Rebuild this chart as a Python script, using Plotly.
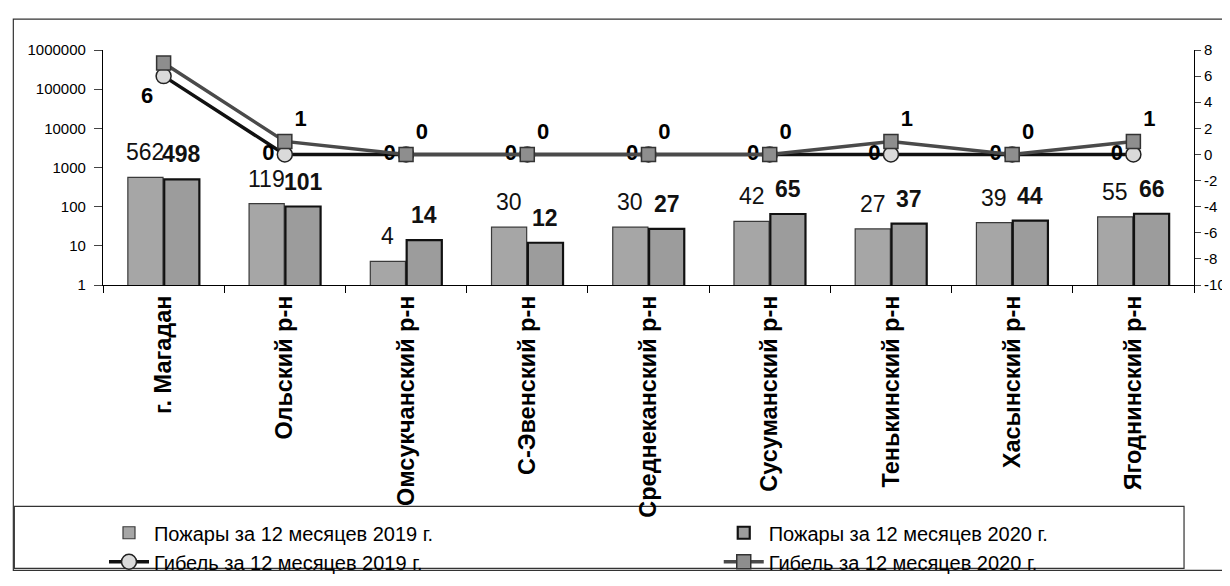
import plotly.graph_objects as go
import numpy as np

# ---- data ----
categories = ["г. Магадан", "Ольский р-н", "Омсукчанский р-н", "С-Эвенский р-н",
              "Среднеканский р-н", "Сусуманский р-н", "Тенькинский р-н",
              "Хасынский р-н", "Ягоднинский р-н"]
fires_2019 = [562, 119, 4, 30, 30, 42, 27, 39, 55]
fires_2020 = [498, 101, 14, 12, 27, 65, 37, 44, 66]
deaths_2019 = [6, 0, 0, 0, 0, 0, 0, 0, 0]
deaths_2020 = [7, 1, 0, 0, 0, 0, 1, 0, 1]
left_ticks = [1, 10, 100, 1000, 10000, 100000, 1000000]
right_ticks = [-10, -8, -6, -4, -2, 0, 2, 4, 6, 8]

names = ["Пожары за 12 месяцев 2019 г.", "Пожары за 12 месяцев 2020 г.",
         "Гибель за 12 месяцев 2019 г.", "Гибель за 12 месяцев 2020 г."]

W, H = 1230, 586
ML, MR, MT, MB = 95, 40, 42, 301
PW, PH = W - ML - MR, H - MT - MB

def px_x(p):
    return (p - ML) / PW

def px_y(p):
    return (H - MB - p) / PH

FONT = "Liberation Sans, Arial, sans-serif"
idx = np.arange(len(categories))
half = 0.15

pos_2019 = ["bottom left"] + ["middle left"] * (len(categories) - 1)

fig = go.Figure()
fig.add_trace(go.Bar(x=idx - half, y=fires_2019, width=0.29, name=names[0],
                     marker=dict(color="#a6a6a6", line=dict(color="#3a3a3a", width=1.2)),
                     legend="legend"))
fig.add_trace(go.Bar(x=idx + half, y=fires_2020, width=0.29, name=names[1],
                     marker=dict(color="#9c9c9c", line=dict(color="#111111", width=2.2)),
                     legend="legend2"))
fig.add_trace(go.Scatter(x=idx, y=deaths_2019, yaxis="y2", name=names[2],
                         mode="lines+markers+text", text=[str(v) for v in deaths_2019],
                         textposition=pos_2019,
                         textfont=dict(size=22, color="black", family=FONT, weight="bold"),
                         line=dict(color="#111111", width=3.5),
                         marker=dict(symbol="circle", size=15, color="#dadada",
                                     line=dict(color="#222222", width=1.5)),
                         legend="legend"))
fig.add_trace(go.Scatter(x=idx, y=deaths_2020, yaxis="y2", name=names[3],
                         mode="lines+markers+text", text=[str(v) for v in deaths_2020],
                         textposition="top right",
                         textfont=dict(size=22, color="black", family=FONT, weight="bold"),
                         line=dict(color="#4a4a4a", width=3.5),
                         marker=dict(symbol="square", size=14, color="#8e8e8e",
                                     line=dict(color="#333333", width=1.5)),
                         legend="legend2"))

annotations = []
for i, v in enumerate(fires_2019):
    annotations.append(dict(x=i - half, y=np.log10(v), xref="x", yref="y", text=str(v),
                            showarrow=False, yshift=25,
                            font=dict(size=23, family=FONT, color="#111")))
for i, v in enumerate(fires_2020):
    annotations.append(dict(x=i + half, y=np.log10(v), xref="x", yref="y", text=str(v),
                            showarrow=False, yshift=25,
                            font=dict(size=23, family=FONT, color="#111", weight="bold")))

shapes = [
    dict(type="rect", xref="paper", yref="paper",
         x0=px_x(5), x1=px_x(1225), y0=px_y(580), y1=px_y(10),
         line=dict(color="#333", width=1.2), fillcolor="rgba(0,0,0,0)", layer="below"),
    dict(type="rect", xref="paper", yref="paper",
         x0=px_x(6), x1=px_x(1180), y0=px_y(578), y1=px_y(514),
         line=dict(color="#333", width=1.2), fillcolor="rgba(0,0,0,0)", layer="below"),
]

fig.update_layout(
    width=W, height=H,
    margin=dict(l=ML, r=MR, t=MT, b=MB),
    paper_bgcolor="white", plot_bgcolor="white",
    font=dict(family=FONT, color="black"),
    showlegend=True,
    barmode="overlay",
    xaxis=dict(range=[-0.5, len(categories) - 0.5],
               tickvals=idx, ticktext=categories, tickangle=-90,
               tickfont=dict(size=23.5, family=FONT, weight="bold"),
               ticks="", showline=True, linecolor="black", linewidth=1.2,
               showgrid=False, zeroline=False,
               minor=dict(tickvals=list(idx - 0.5) + [len(categories) - 0.5],
                          ticks="outside", ticklen=7, tickcolor="black", showgrid=False)),
    yaxis=dict(type="log", range=[0, 6], tickvals=left_ticks,
               ticktext=[str(t) for t in left_ticks],
               tickfont=dict(size=15), ticks="outside", ticklen=8,
               ticklabelstandoff=5,
               showline=True, linecolor="black", linewidth=1.2,
               showgrid=False, zeroline=False),
    yaxis2=dict(overlaying="y", side="right", anchor="x", range=[-10, 8],
                tickvals=right_ticks, ticktext=[str(t) for t in right_ticks],
                tickfont=dict(size=15),
                ticks="outside", ticklen=6, showline=True, linecolor="black",
                linewidth=1.2, showgrid=False, zeroline=False),
    legend=dict(x=px_x(96), y=px_y(521), xanchor="left", yanchor="top",
                orientation="v", font=dict(size=20), bgcolor="rgba(0,0,0,0)",
                tracegroupgap=0, itemwidth=40),
    legend2=dict(x=px_x(713), y=px_y(521), xanchor="left", yanchor="top",
                 orientation="v", font=dict(size=20), bgcolor="rgba(0,0,0,0)",
                 tracegroupgap=0, itemwidth=40),
    annotations=annotations,
    shapes=shapes,
)

fig.write_html("out.html")
